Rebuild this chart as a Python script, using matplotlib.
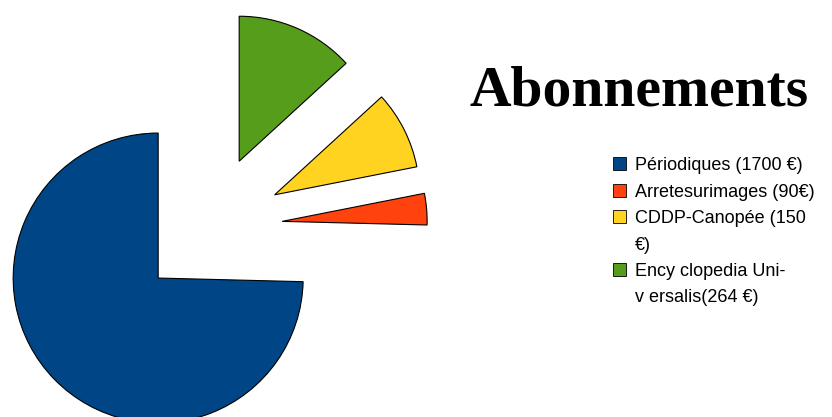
import matplotlib
matplotlib.use("Agg")
import matplotlib.pyplot as plt
from matplotlib.patches import Rectangle

# Data (shares)
categories = ["Périodiques (1700 €)", "Arretesurimages (90€)",
              "CDDP-Canopée (150 €)", "Encyclopedia Universalis(264 €)"]
legend_lines = [["Périodiques (1700 €)"],
                ["Arretesurimages (90€)"],
                ["CDDP-Canopée (150", "€)"],
                ["Ency clopedia Uni-", "v ersalis(264 €)"]]
shares = [74.6, 3.5, 8.7, 13.2]
colors = ["#004586", "#ff420e", "#ffd320", "#579d1c"]
title = "Abonnements"

W, H = 832, 417
fig = plt.figure(figsize=(W / 100, H / 100), dpi=100)
ax = fig.add_axes([0, 0, 1, 1])
ax.pie(shares, colors=colors, startangle=90, counterclock=True,
       radius=145, center=(210, H - 227.5), explode=[72.4] * len(shares),
       wedgeprops=dict(edgecolor="black", linewidth=0.8))
ax.set_xlim(0, W)
ax.set_ylim(0, H)
ax.set_aspect("equal")
ax.axis("off")

# Title
ax.text(469, H - 105, title, ha="left", va="baseline",
        fontsize=41.5, fontweight="bold", family="Liberation Serif")

# Legend (manual, to mimic wrapped labels)
line_h = 26.5
row = 0
for lines, c in zip(legend_lines, colors):
    yc = 163.5 + row * line_h
    ax.add_patch(Rectangle((612.5, H - yc - 6.5), 13.5, 13, facecolor=c,
                           edgecolor="black", linewidth=0.6))
    for ln in lines:
        yl = 163.5 + row * line_h
        ax.text(635, H - (yl + 6.5), ln, ha="left", va="baseline",
                fontsize=13.0, family="Liberation Sans")
        row += 1

fig.savefig("out.png", dpi=100)
